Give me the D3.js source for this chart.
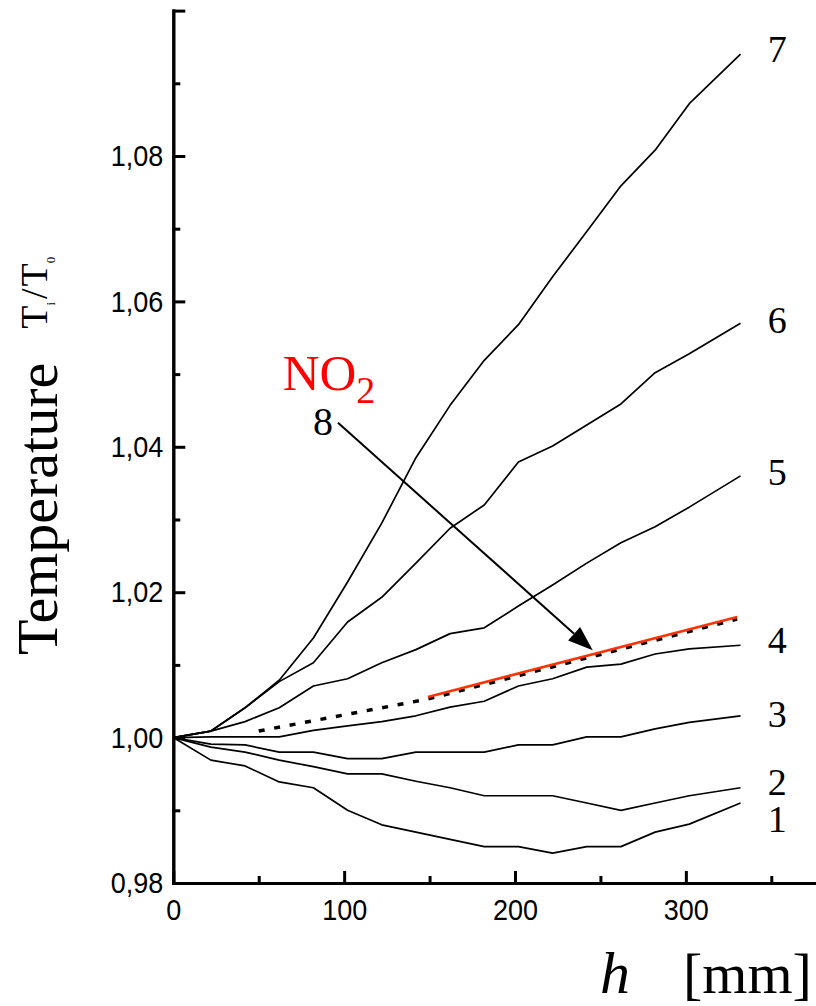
<!DOCTYPE html>
<html>
<head>
<meta charset="utf-8">
<script src="https://cdn.jsdelivr.net/npm/d3@7"></script>
<style>
  body { margin: 0; background: #fff; }
  svg { display: block; }
</style>
</head>
<body>
<svg id="chart"></svg>
<script>
//Data
const hValues = [0, 22, 42, 62, 82, 102, 122, 142, 162, 182, 202, 222, 242, 262, 282, 302, 332];
const curve1 = [1.000, 0.9969, 0.9961, 0.9939, 0.9931, 0.9900, 0.9880, 0.9870, 0.9860, 0.9850, 0.9850, 0.9841, 0.9850, 0.9850, 0.9870, 0.9881, 0.9910];
const curve2 = [1.000, 0.9987, 0.9980, 0.9969, 0.9960, 0.9950, 0.9950, 0.9940, 0.9931, 0.9920, 0.9920, 0.9920, 0.9910, 0.9900, 0.9910, 0.9920, 0.9931];
const curve3 = [1.000, 0.9991, 0.9990, 0.9980, 0.9980, 0.9971, 0.9971, 0.9980, 0.9980, 0.9980, 0.9990, 0.9990, 1.0001, 1.0001, 1.0012, 1.0021, 1.0030];
const curve4 = [1.000, 1.0001, 1.0001, 1.0001, 1.0010, 1.0016, 1.0022, 1.0030, 1.0042, 1.0050, 1.0071, 1.0081, 1.0097, 1.0101, 1.0115, 1.0122, 1.0127];
const curve5 = [1.000, 1.0009, 1.0022, 1.0041, 1.0071, 1.0081, 1.0103, 1.0121, 1.0143, 1.0151, 1.0181, 1.0210, 1.0240, 1.0268, 1.0290, 1.0317, 1.0360];
const curve6 = [1.000, 1.0009, 1.0041, 1.0077, 1.0103, 1.0159, 1.0193, 1.0240, 1.0288, 1.0320, 1.0379, 1.0401, 1.0430, 1.0459, 1.0502, 1.0528, 1.0570];
const curve7 = [1.000, 1.0009, 1.0041, 1.0079, 1.0137, 1.0214, 1.0295, 1.0385, 1.0457, 1.0519, 1.0568, 1.0634, 1.0696, 1.0759, 1.0808, 1.0872, 1.0940];
const curves = [curve1, curve2, curve3, curve4, curve5, curve6, curve7];

// curve 8 (NO2): dotted computed line and red fit
const dottedH = [50, 149, 330];
const dottedV = [1.0009, 1.0053, 1.0163];
const redH = [149, 330];
const redV = [1.0056, 1.0166];

// curve labels (text, h, value at baseline)
const labelText = ["1", "2", "3", "4", "5", "6", "7"];
const labelH = [348, 348, 348, 348, 348, 348, 348];
const labelV = [0.9870, 0.9921, 1.0015, 1.0116, 1.0347, 1.0556, 1.0929];

const xMajor = [0, 100, 200, 300];
const xMinor = [50, 150, 250, 350];
const yMajor = [0.98, 1.00, 1.02, 1.04, 1.06, 1.08, 1.10];
const yMinor = [0.99, 1.01, 1.03, 1.05, 1.07, 1.09];

//Constants
const width = 816, height = 1006;
const margin = {left: 173.3, top: 10.6, right: 2, bottom: 123};
const squeeze = 0.9; // tick labels are a bit narrow in the original

const svg = d3.select('#chart')
    .attr('width', width)
    .attr('height', height);

const x = d3.scaleLinear().domain([0, 375]).range([margin.left, width - margin.right]);
const y = d3.scaleLinear().domain([0.98, 1.10]).range([height - margin.bottom, margin.top]);

const comma = d3.formatLocale({decimal: ",", thousands: " ", grouping: [3], currency: ["", ""]}).format(".2f");

// axes
function styleAxis(g) {
    g.select('.domain').attr('stroke-width', 3).attr('stroke-linecap', 'square');
    g.selectAll('.tick line').attr('stroke-width', 3);
    g.selectAll('.tick text')
        .attr('font-family', '"Liberation Sans", Arial, sans-serif')
        .attr('font-size', 30)
        .attr('fill', '#000')
        .attr('transform', 'scale(' + squeeze + ',1)');
}

svg.append('g')
    .attr('transform', 'translate(' + margin.left + ',0)')
    .call(d3.axisLeft(y).tickValues(yMinor).tickSizeInner(-7).tickSizeOuter(0).tickFormat(''))
    .call(styleAxis);

const yAxisG = svg.append('g')
    .attr('transform', 'translate(' + margin.left + ',0)')
    .call(d3.axisLeft(y).tickValues(yMajor).tickSizeInner(-12).tickSizeOuter(0).tickPadding(10)
        .tickFormat(d => d > 1.09 ? '' : comma(d)))
    .call(styleAxis);
yAxisG.selectAll('.tick text').attr('x', -10 / squeeze);

svg.append('g')
    .attr('transform', 'translate(0,' + (height - margin.bottom) + ')')
    .call(d3.axisBottom(x).tickValues(xMinor).tickSizeInner(-7).tickSizeOuter(0).tickFormat(''))
    .call(styleAxis);

svg.append('g')
    .attr('transform', 'translate(0,' + (height - margin.bottom) + ')')
    .call(d3.axisBottom(x).tickValues(xMajor).tickSizeInner(-12).tickSizeOuter(0).tickPadding(16))
    .call(styleAxis);

// curves
const line = d3.line().x(d => x(d[0])).y(d => y(d[1]));

svg.append('g').selectAll('path')
    .data(curves)
    .enter().append('path')
    .attr('d', c => line(c.map((v, i) => [hValues[i], v])))
    .attr('fill', 'none')
    .attr('stroke', '#000')
    .attr('stroke-width', 1.7)
    .attr('stroke-linejoin', 'round');

svg.append('path')
    .attr('d', line(dottedH.map((h, i) => [h, dottedV[i]])))
    .attr('fill', 'none')
    .attr('stroke', '#000')
    .attr('stroke-width', 3.5)
    .attr('stroke-dasharray', '6,9.7');

svg.append('path')
    .attr('d', line(redH.map((h, i) => [h, redV[i]])))
    .attr('fill', 'none')
    .attr('stroke', '#ff3300')
    .attr('stroke-width', 2.6);

// curve labels
const serif = '"Liberation Serif", "Times New Roman", serif';
svg.append('g').selectAll('text')
    .data(labelText)
    .enter().append('text')
    .attr('x', (d, i) => x(labelH[i]))
    .attr('y', (d, i) => y(labelV[i]))
    .attr('font-family', serif)
    .attr('font-size', 38)
    .text(d => d);

// label 8 + NO2 + arrow
svg.append('text')
    .attr('x', x(81.7)).attr('y', y(1.0416))
    .attr('font-family', serif).attr('font-size', 40)
    .text('8');

const no2 = svg.append('text')
    .attr('x', x(64)).attr('y', y(1.0478))
    .attr('font-family', serif).attr('font-size', 51)
    .attr('fill', '#ff0000')
    .text('NO');
no2.append('tspan').attr('font-size', 38).attr('dy', 13).text('2');

const a0 = [x(96.4), y(1.0433)], a1 = [x(245.5), y(1.0120)];
const dx = a1[0] - a0[0], dy = a1[1] - a0[1], len = Math.hypot(dx, dy);
const ux = dx / len, uy = dy / len, headL = 25, headW = 9;
const base = [a1[0] - ux * headL, a1[1] - uy * headL];
svg.append('line')
    .attr('x1', a0[0]).attr('y1', a0[1])
    .attr('x2', base[0]).attr('y2', base[1])
    .attr('stroke', '#000').attr('stroke-width', 2);
svg.append('path')
    .attr('d', 'M' + a1 + 'L' + [base[0] - uy * headW, base[1] + ux * headW] +
        'L' + [base[0] + uy * headW, base[1] - ux * headW] + 'Z')
    .attr('fill', '#000');

// y axis title
const yt = svg.append('text')
    .attr('transform', 'translate(57,655) rotate(-90)')
    .attr('font-family', serif)
    .attr('font-size', 58)
    .text('Temperature');
yt.append('tspan').attr('font-size', 38).attr('dx', 34).attr('dy', -10).text('T');
yt.append('tspan').attr('font-size', 13).attr('dy', 8).text('i');
yt.append('tspan').attr('font-size', 38).attr('dx', 3).attr('dy', -8).text('/');
yt.append('tspan').attr('font-size', 38).attr('dx', 2).text('T');
yt.append('tspan').attr('font-size', 13).attr('dy', 8).text('0');

// x axis title
svg.append('text')
    .attr('x', 600).attr('y', 993)
    .attr('font-family', serif).attr('font-size', 60).attr('font-style', 'italic')
    .text('h');
svg.append('text')
    .attr('x', 683).attr('y', 993)
    .attr('font-family', serif).attr('font-size', 58)
    .text('[mm]');
</script>
</body>
</html>
